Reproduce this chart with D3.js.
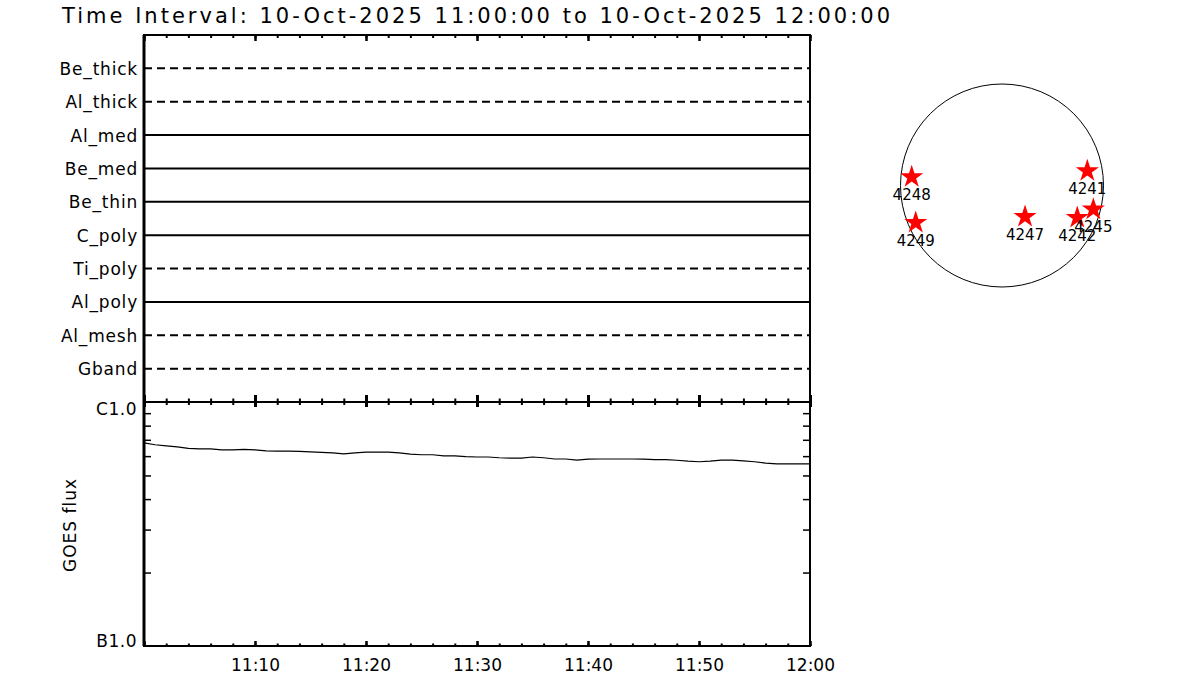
<!DOCTYPE html>
<html>
<head>
<meta charset="utf-8">
<script src="https://cdn.jsdelivr.net/npm/d3@7"></script>
<style>
  body { margin: 0; background: #fff; }
  text { font-family: "DejaVu Sans", sans-serif; fill: #000; }
</style>
</head>
<body>
<div id="app"></div>
<script>
var width = 1200;
var height = 700;

// filter rows, top to bottom
var filters = ["Be_thick", "Al_thick", "Al_med", "Be_med", "Be_thin", "C_poly", "Ti_poly", "Al_poly", "Al_mesh", "Gband"];
var filterDashed = [true, true, false, false, false, false, true, false, true, true];

// GOES flux, 1-minute samples from 11:00 to 12:00 (units of 1e-7 W/m^2)
var goesMinutes = d3.range(0, 61);
var goesFlux = [6.80, 6.68, 6.61, 6.55, 6.46, 6.43, 6.43, 6.37, 6.37, 6.40,
                6.37, 6.31, 6.29, 6.29, 6.28, 6.25, 6.22, 6.19, 6.13, 6.19,
                6.23, 6.23, 6.23, 6.19, 6.11, 6.08, 6.08, 6.02, 6.02, 5.97,
                5.95, 5.95, 5.91, 5.89, 5.89, 5.95, 5.91, 5.84, 5.84, 5.78,
                5.83, 5.84, 5.84, 5.84, 5.84, 5.83, 5.80, 5.80, 5.77, 5.72,
                5.69, 5.72, 5.78, 5.78, 5.74, 5.69, 5.62, 5.58, 5.58, 5.58, 5.58];

var yTickLabels = ["C1.0", "B1.0"];
var xTickLabels = ["11:10", "11:20", "11:30", "11:40", "11:50", "12:00"];

// active regions on the disk, heliocentric arcsec
var arNames = ["4248", "4249", "4247", "4242", "4245", "4241"];
var arX = [-854, -816, 218, 712, 864, 807];
var arY = [90, -342, -286, -295, -216, 147];

var svg = d3.select("#app").append("svg")
    .attr("width", width)
    .attr("height", height)
    .style("background", "#fff");

var pLeft = 144, pRight = 810, pTop = 35, pMid = 402, pBottom = 646;
var t0 = new Date(2025, 9, 10, 11, 0, 0);
var t1 = new Date(2025, 9, 10, 12, 0, 0);

var x = d3.scaleTime().domain([t0, t1]).range([pLeft, pRight]);
var yRow = d3.scaleLinear().domain([0, filters.length + 1]).range([pTop, pMid]);
var yFlux = d3.scaleLog().domain([1e-7, 1e-6]).range([pBottom, pMid]);

var minorT = d3.timeMinute.every(2).range(t0, d3.timeMinute.offset(t1, 1));
var majorT = d3.timeMinute.every(10).range(t0, d3.timeMinute.offset(t1, 1));

svg.append("text")
    .attr("x", 62).attr("y", 23)
    .attr("font-size", 21)
    .attr("textLength", 828)
    .attr("lengthAdjust", "spacing")
    .text("Time Interval: 10-Oct-2025 11:00:00 to 10-Oct-2025 12:00:00");

// filter lines
var rows = svg.append("g");
rows.selectAll("line")
    .data(filters)
    .enter().append("line")
    .attr("x1", pLeft).attr("x2", pRight)
    .attr("y1", function(d, i) { return yRow(i + 1); })
    .attr("y2", function(d, i) { return yRow(i + 1); })
    .attr("stroke", "#000")
    .attr("stroke-width", 2)
    .attr("stroke-dasharray", function(d, i) { return filterDashed[i] ? "8,5" : null; });

rows.selectAll("text")
    .data(filters)
    .enter().append("text")
    .attr("x", 138)
    .attr("y", function(d, i) { return yRow(i + 1) + 6.5; })
    .attr("text-anchor", "end")
    .attr("font-size", 17)
    .attr("letter-spacing", 0.8)
    .text(function(d) { return d; });

// axis tick helper
function ticks(axis, vals, size, ty, w) {
    var g = svg.append("g")
        .attr("transform", "translate(0," + ty + ")")
        .call(axis(x).tickValues(vals).tickSize(size).tickFormat(""));
    g.select(".domain").remove();
    g.selectAll("line").attr("stroke-width", w);
    return g;
}

ticks(d3.axisBottom, minorT, 3, pTop, 2);
ticks(d3.axisBottom, majorT, 6, pTop, 2.5);
ticks(d3.axisTop, minorT, 3.5, pMid, 2);
ticks(d3.axisTop, majorT, 7, pMid, 3);
ticks(d3.axisBottom, minorT, 3, pMid, 2);
ticks(d3.axisBottom, majorT, 5, pMid, 3);
ticks(d3.axisTop, minorT, 2.5, pBottom, 2);
ticks(d3.axisTop, majorT, 5, pBottom, 2.5);

var xl = svg.append("g")
    .attr("transform", "translate(0," + pBottom + ")")
    .call(d3.axisBottom(x).tickValues(majorT.slice(1)).tickSize(0).tickPadding(13)
        .tickFormat(function(d, i) { return xTickLabels[i]; }));
xl.select(".domain").remove();
xl.attr("font-family", null).attr("font-size", null);
xl.selectAll("text")
    .style("font-size", "17px")
    .attr("fill", "#000");

// log ticks on flux axis
var logTicks = d3.range(2, 10).map(function(k) { return k * 1e-7; });
var yl = svg.append("g").attr("transform", "translate(" + pLeft + ",0)")
    .call(d3.axisRight(yFlux).tickValues(logTicks).tickSize(7).tickFormat(""));
yl.select(".domain").remove();
yl.selectAll("line").attr("stroke-width", 1.5);
var yr = svg.append("g").attr("transform", "translate(" + pRight + ",0)")
    .call(d3.axisLeft(yFlux).tickValues(logTicks).tickSize(7).tickFormat(""));
yr.select(".domain").remove();
yr.selectAll("line").attr("stroke-width", 1.5);

svg.append("text").attr("x", 137).attr("y", pMid + 13)
    .attr("text-anchor", "end").attr("font-size", 17).attr("letter-spacing", 0.5)
    .text(yTickLabels[0]);
svg.append("text").attr("x", 137).attr("y", pBottom + 1)
    .attr("text-anchor", "end").attr("font-size", 17).attr("letter-spacing", 0.5)
    .text(yTickLabels[1]);

svg.append("text")
    .attr("transform", "translate(76,525) rotate(-90)")
    .attr("text-anchor", "middle")
    .attr("font-size", 17)
    .attr("letter-spacing", 1)
    .text("GOES flux");

// GOES curve
var line = d3.line()
    .x(function(d, i) { return x(d3.timeMinute.offset(t0, goesMinutes[i])); })
    .y(function(d) { return yFlux(d * 1e-7); });
svg.append("path")
    .datum(goesFlux)
    .attr("d", line)
    .attr("fill", "none")
    .attr("stroke", "#000")
    .attr("stroke-width", 1.2);

// frames
svg.append("rect")
    .attr("x", pLeft).attr("y", pTop)
    .attr("width", pRight - pLeft).attr("height", pBottom - pTop)
    .attr("fill", "none").attr("stroke", "#000").attr("stroke-width", 2);
svg.append("line")
    .attr("x1", pLeft).attr("x2", pLeft).attr("y1", pTop).attr("y2", pBottom)
    .attr("stroke", "#000").attr("stroke-width", 3);
svg.append("line")
    .attr("x1", pLeft).attr("x2", pRight).attr("y1", pMid).attr("y2", pMid)
    .attr("stroke", "#000").attr("stroke-width", 2);

// solar disk
var sx = d3.scaleLinear().domain([-960, 960]).range([1002 - 101.5, 1002 + 101.5]);
var sy = d3.scaleLinear().domain([-960, 960]).range([287, 84]);

svg.append("circle")
    .attr("cx", sx(0)).attr("cy", sy(0))
    .attr("r", sx(960) - sx(0))
    .attr("fill", "none").attr("stroke", "#000").attr("stroke-width", 1);

var ar = svg.append("g");
ar.selectAll("path")
    .data(arNames)
    .enter().append("path")
    .attr("d", d3.symbol().type(d3.symbolStar).size(165))
    .attr("transform", function(d, i) { return "translate(" + sx(arX[i]) + "," + (sy(arY[i]) + 1) + ")"; })
    .attr("fill", "#ff0000");
ar.selectAll("text")
    .data(arNames)
    .enter().append("text")
    .attr("x", function(d, i) { return sx(arX[i]); })
    .attr("y", function(d, i) { return sy(arY[i]) + 24; })
    .attr("text-anchor", "middle")
    .attr("font-size", 15)
    .text(function(d) { return d; });
</script>
</body>
</html>
